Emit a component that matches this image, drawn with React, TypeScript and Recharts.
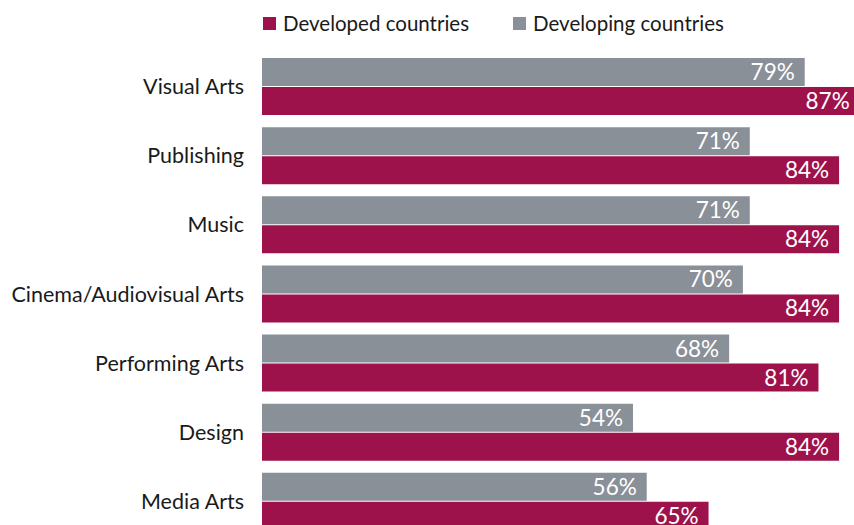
import { Bar, BarChart, LabelList, Legend, XAxis, YAxis } from "recharts";

const categories = [
  "Visual Arts",
  "Publishing",
  "Music",
  "Cinema/Audiovisual Arts",
  "Performing Arts",
  "Design",
  "Media Arts",
];
const developing = [79, 71, 71, 70, 68, 54, 56];
const developed = [87, 84, 84, 84, 81, 84, 65];

const data = categories.map((name, i) => ({
  name,
  developing: developing[i],
  developed: developed[i],
}));

const CRIMSON = "#9e124c";
const GREY = "#8a9098";
const FONT = "Lato, 'Open Sans', sans-serif";

const legendItems = [
  { label: "Developed countries", color: CRIMSON },
  { label: "Developing countries", color: GREY },
];

function TopLegend() {
  return (
    <div style={{ display: "flex", gap: 44, fontFamily: FONT, fontSize: 20.5, color: "#1a1a1a", lineHeight: "22px" }}>
      {legendItems.map((it) => (
        <div key={it.label} style={{ display: "flex", alignItems: "center" }}>
          <span style={{ width: 13, height: 13, background: it.color, marginRight: 7, display: "inline-block" }} />
          {it.label}
        </div>
      ))}
    </div>
  );
}

const pct = (v: any) => `${v}%`;

export default function App() {
  return (
    <div
      style={{
        position: "absolute",
        left: 0,
        top: 0,
        width: 854,
        height: 525,
        overflow: "hidden",
        background: "#fff",
      }}
    >
      <BarChart
        width={949}
        height={540}
        data={data}
        layout="vertical"
        margin={{ top: 30, right: 0, bottom: 4, left: 0 }}
        barGap={1}
        barSize={28}
      >
        <XAxis type="number" domain={[0, 100]} hide />
        <YAxis
          type="category"
          dataKey="name"
          width={262}
          axisLine={false}
          tickLine={false}
          tickSize={0}
          tickMargin={18}
          tick={{ fill: "#1a1a1a", fontSize: 21.5, fontFamily: FONT }}
        />
        <Legend
          verticalAlign="top"
          content={() => <TopLegend />}
          wrapperStyle={{ top: 12, left: 263, width: "auto" }}
        />
        <Bar dataKey="developing" fill={GREY} isAnimationActive={false}>
          <LabelList
            dataKey="developing"
            position="insideRight"
            offset={10}
            formatter={pct}
            fill="#fff"
            style={{ fontSize: 22.5, fontFamily: FONT }}
          />
        </Bar>
        <Bar dataKey="developed" fill={CRIMSON} isAnimationActive={false}>
          <LabelList
            dataKey="developed"
            position="insideRight"
            offset={10}
            formatter={pct}
            fill="#fff"
            style={{ fontSize: 22.5, fontFamily: FONT }}
          />
        </Bar>
      </BarChart>
    </div>
  );
}
